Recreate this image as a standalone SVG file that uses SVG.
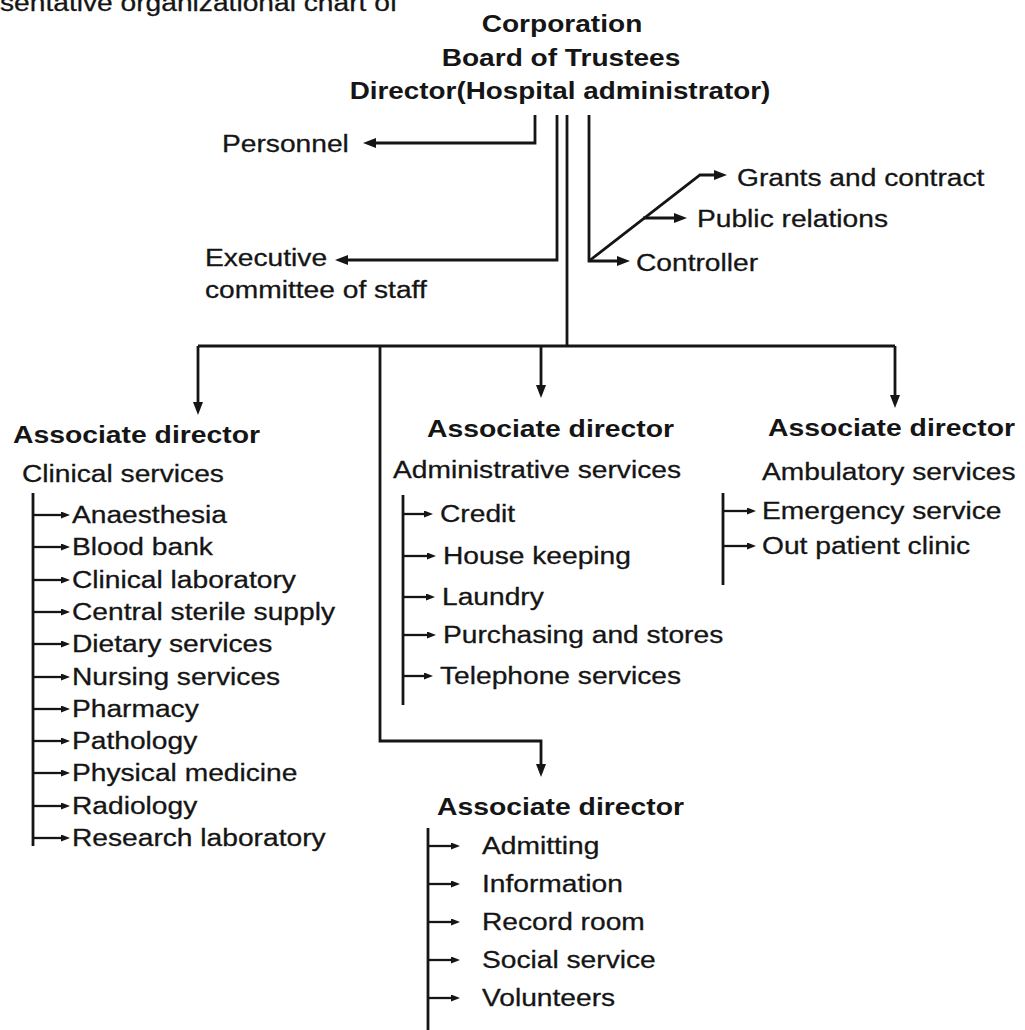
<svg xmlns="http://www.w3.org/2000/svg" width="1025" height="1030" viewBox="0 0 1025 1030">
<style>
.r{font-family:"Liberation Sans",Arial,sans-serif;font-size:24.5px;fill:#151515;stroke:#151515;stroke-width:0.3}
.b{font-family:"Liberation Sans",Arial,sans-serif;font-size:24px;font-weight:bold;fill:#151515}
.m{text-anchor:middle}
.ln{fill:none;stroke:#151515;stroke-width:2.8}
.it{fill:none;stroke:#151515;stroke-width:2.3}
</style>
<defs>
<marker id="big" markerUnits="userSpaceOnUse" markerWidth="14" markerHeight="10" refX="3" refY="5" orient="auto"><path d="M0,0 L13,5 L0,10 z" fill="#151515"/></marker>
<marker id="sm" markerUnits="userSpaceOnUse" markerWidth="10" markerHeight="8" refX="2" refY="3.5" orient="auto"><path d="M0,0 L9,3.5 L0,7 z" fill="#151515"/></marker>
</defs>
<rect width="1025" height="1030" fill="#ffffff"/>
<text class="r" transform="translate(0 11) scale(1.15 1)">sentative organizational chart of</text>

<g id="top">
<text class="b m" transform="translate(562 32) scale(1.17 1)">Corporation</text>
<text class="b m" transform="translate(561 66) scale(1.17 1)">Board of Trustees</text>
<text class="b m" transform="translate(560 99) scale(1.16 1)">Director(Hospital administrator)</text>
</g>
<g id="personnel"><text class="r" transform="translate(222 152) scale(1.15 1)">Personnel</text></g>
<g id="executive">
<text class="r" transform="translate(205 266) scale(1.15 1)">Executive</text>
<text class="r" transform="translate(205 298) scale(1.15 1)">committee of staff</text>
</g>
<g id="grants"><text class="r" transform="translate(737 186) scale(1.15 1)">Grants and contract</text></g>
<g id="public"><text class="r" transform="translate(697 227) scale(1.15 1)">Public relations</text></g>
<g id="controller"><text class="r" transform="translate(636 271) scale(1.15 1)">Controller</text></g>

<g id="clinical">
<text class="b" transform="translate(13 443) scale(1.18 1)">Associate director</text>
<text class="r" transform="translate(22 482) scale(1.15 1)">Clinical services</text>
<text class="r" transform="translate(72 523) scale(1.15 1)">Anaesthesia</text>
<text class="r" transform="translate(72 555) scale(1.15 1)">Blood bank</text>
<text class="r" transform="translate(72 588) scale(1.15 1)">Clinical laboratory</text>
<text class="r" transform="translate(72 620) scale(1.15 1)">Central sterile supply</text>
<text class="r" transform="translate(72 652) scale(1.15 1)">Dietary services</text>
<text class="r" transform="translate(72 685) scale(1.15 1)">Nursing services</text>
<text class="r" transform="translate(72 717) scale(1.15 1)">Pharmacy</text>
<text class="r" transform="translate(72 749) scale(1.15 1)">Pathology</text>
<text class="r" transform="translate(72 781) scale(1.15 1)">Physical medicine</text>
<text class="r" transform="translate(72 814) scale(1.15 1)">Radiology</text>
<text class="r" transform="translate(72 846) scale(1.15 1)">Research laboratory</text>
</g>

<g id="administrative">
<text class="b" transform="translate(427 437) scale(1.18 1)">Associate director</text>
<text class="r" transform="translate(393 478) scale(1.15 1)">Administrative services</text>
<text class="r" transform="translate(440 522) scale(1.15 1)">Credit</text>
<text class="r" transform="translate(443 564) scale(1.15 1)">House keeping</text>
<text class="r" transform="translate(442 605) scale(1.15 1)">Laundry</text>
<text class="r" transform="translate(443 643) scale(1.15 1)">Purchasing and stores</text>
<text class="r" transform="translate(440 684) scale(1.15 1)">Telephone services</text>
</g>

<g id="ambulatory">
<text class="b" transform="translate(768 436) scale(1.18 1)">Associate director</text>
<text class="r" transform="translate(762 480) scale(1.15 1)">Ambulatory services</text>
<text class="r" transform="translate(762 519) scale(1.15 1)">Emergency service</text>
<text class="r" transform="translate(762 554) scale(1.15 1)">Out patient clinic</text>
</g>

<g id="general">
<text class="b" transform="translate(437 815) scale(1.18 1)">Associate director</text>
<text class="r" transform="translate(482 854) scale(1.15 1)">Admitting</text>
<text class="r" transform="translate(482 892) scale(1.15 1)">Information</text>
<text class="r" transform="translate(482 930) scale(1.15 1)">Record room</text>
<text class="r" transform="translate(482 968) scale(1.15 1)">Social service</text>
<text class="r" transform="translate(482 1006) scale(1.15 1)">Volunteers</text>
</g>

<g id="connectors">
<path class="ln" d="M535,115 V143 H373" marker-end="url(#big)"/>
<path class="ln" d="M557,115 V260 H345" marker-end="url(#big)"/>
<path class="ln" d="M567,115 V346"/>
<path class="ln" d="M589,115 V261 H620" marker-end="url(#big)"/>
<path class="ln" d="M589,261 L700,175 H717" marker-end="url(#big)"/>
<path class="ln" d="M643,218 H677" marker-end="url(#big)"/>
<path class="ln" d="M198,346 H895"/>
<path class="ln" d="M198,346 V405" marker-end="url(#big)"/>
<path class="ln" d="M541,346 V388" marker-end="url(#big)"/>
<path class="ln" d="M895,346 V398" marker-end="url(#big)"/>
<path class="ln" d="M380,346 V741 H541 V767" marker-end="url(#big)"/>

<path class="ln" d="M33,493 V846"/>
<path class="it" d="M33,515 H63" marker-end="url(#sm)"/>
<path class="it" d="M33,547 H63" marker-end="url(#sm)"/>
<path class="it" d="M33,580 H63" marker-end="url(#sm)"/>
<path class="it" d="M33,612 H63" marker-end="url(#sm)"/>
<path class="it" d="M33,644 H63" marker-end="url(#sm)"/>
<path class="it" d="M33,677 H63" marker-end="url(#sm)"/>
<path class="it" d="M33,709 H63" marker-end="url(#sm)"/>
<path class="it" d="M33,741 H63" marker-end="url(#sm)"/>
<path class="it" d="M33,773 H63" marker-end="url(#sm)"/>
<path class="it" d="M33,806 H63" marker-end="url(#sm)"/>
<path class="it" d="M33,838 H63" marker-end="url(#sm)"/>

<path class="ln" d="M403,495 V705"/>
<path class="it" d="M403,514 H426" marker-end="url(#sm)"/>
<path class="it" d="M403,556 H429" marker-end="url(#sm)"/>
<path class="it" d="M403,597 H428" marker-end="url(#sm)"/>
<path class="it" d="M403,635 H429" marker-end="url(#sm)"/>
<path class="it" d="M403,676 H426" marker-end="url(#sm)"/>

<path class="ln" d="M723,493 V585"/>
<path class="it" d="M723,511 H749" marker-end="url(#sm)"/>
<path class="it" d="M723,546 H749" marker-end="url(#sm)"/>

<path class="ln" d="M428,828 V1030"/>
<path class="it" d="M428,846 H453" marker-end="url(#sm)"/>
<path class="it" d="M428,884 H453" marker-end="url(#sm)"/>
<path class="it" d="M428,922 H453" marker-end="url(#sm)"/>
<path class="it" d="M428,960 H453" marker-end="url(#sm)"/>
<path class="it" d="M428,998 H453" marker-end="url(#sm)"/>
</g>
</svg>
